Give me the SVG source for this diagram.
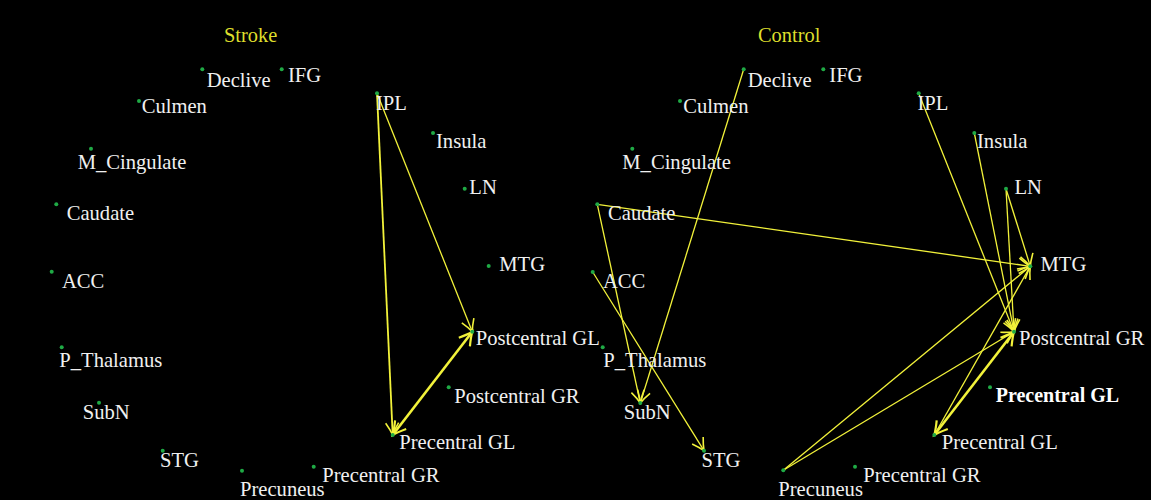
<svg xmlns="http://www.w3.org/2000/svg" width="1151" height="500" viewBox="0 0 1151 500">
<defs>
<style>
.lbl{font-family:"Liberation Serif","Times New Roman",serif;font-size:20.6px;fill:#f0f0f0}
.ttl{font-family:"Liberation Serif","Times New Roman",serif;font-size:20.4px;fill:#dede2c}
.bold{font-weight:bold;fill:#ffffff;font-size:20px}
.dot{fill:#1faa45}
.e{stroke:#f2f23a;fill:none;stroke-width:1.3}
.e2{stroke:#f2f23a;fill:none;stroke-width:1.8}
.e3{stroke:#f2f23a;fill:none;stroke-width:2.6}
</style>
<marker id="ah" markerUnits="userSpaceOnUse" markerWidth="16" markerHeight="16" viewBox="-13 -8 16 16" refX="0" refY="0" orient="auto-start-reverse">
<path d="M-12,-6.5 Q-5,-2 0,0 Q-5,2 -12,6.5" fill="none" stroke="#f2f23a" stroke-width="1.6"/>
</marker>
<marker id="ahb" markerUnits="userSpaceOnUse" markerWidth="18" markerHeight="18" viewBox="-14 -9 18 18" refX="0" refY="0" orient="auto-start-reverse">
<path d="M-13,-7 Q-5,-2 0,0 Q-5,2 -13,7" fill="none" stroke="#f2f23a" stroke-width="2.2"/>
</marker>
</defs>
<rect x="0" y="0" width="1151" height="500" fill="#000000"/>

<text class="ttl" x="224" y="42">Stroke</text>
<text class="ttl" x="758" y="42">Control</text>

<g id="connectors">
<!-- Stroke panel -->
<line class="e" x1="377" y1="93.3" x2="472.3" y2="331.7" marker-end="url(#ah)"/>
<line class="e2" x1="377" y1="93.3" x2="392.7" y2="435" marker-end="url(#ah)"/>
<line class="e3" x1="392.7" y1="435" x2="472.3" y2="331.7" marker-start="url(#ahb)" marker-end="url(#ahb)"/>
<!-- Control panel -->
<line class="e" x1="743.7" y1="69.3" x2="640.3" y2="403" marker-end="url(#ah)"/>
<line class="e" x1="597.3" y1="204.3" x2="640.3" y2="403" marker-end="url(#ah)"/>
<line class="e" x1="597.3" y1="204.3" x2="1030.3" y2="266.3" marker-end="url(#ah)"/>
<line class="e" x1="592.7" y1="272" x2="704" y2="450.7" marker-end="url(#ah)"/>
<line class="e" x1="918.7" y1="93.3" x2="1014" y2="331.7" marker-end="url(#ah)"/>
<line class="e" x1="974.3" y1="133" x2="1014" y2="331.7" marker-end="url(#ah)"/>
<line class="e" x1="1006" y1="188.7" x2="1030.3" y2="266.3" marker-end="url(#ah)"/>
<line class="e" x1="1006" y1="188.7" x2="1014" y2="331.7" marker-end="url(#ah)"/>
<line class="e" x1="783.3" y1="470.3" x2="1030.3" y2="266.3" marker-end="url(#ah)"/>
<line class="e" x1="783.3" y1="470.3" x2="1014" y2="331.7" marker-end="url(#ah)"/>
<line class="e" x1="934.3" y1="435" x2="1030.3" y2="266.3" marker-end="url(#ah)"/>
<line class="e3" x1="934.3" y1="435" x2="1014" y2="331.7" marker-start="url(#ahb)" marker-end="url(#ahb)"/>
</g>

<!-- Stroke nodes -->
<g id="s-declive"><circle class="dot" cx="202.3" cy="69.3" r="2"/><text class="lbl" x="206.7" y="87">Declive</text></g>
<g id="s-ifg"><circle class="dot" cx="281.7" cy="69.3" r="2"/><text class="lbl" x="288" y="82">IFG</text></g>
<g id="s-culmen"><circle class="dot" cx="139" cy="101" r="2"/><text class="lbl" x="141.7" y="113">Culmen</text></g>
<g id="s-ipl"><circle class="dot" cx="377" cy="93.3" r="2"/><text class="lbl" x="376" y="110">IPL</text></g>
<g id="s-insula"><circle class="dot" cx="433" cy="133" r="2"/><text class="lbl" x="436" y="148">Insula</text></g>
<g id="s-mcingulate"><circle class="dot" cx="91" cy="148.7" r="2"/><text class="lbl" x="77.7" y="169">M_Cingulate</text></g>
<g id="s-ln"><circle class="dot" cx="464.7" cy="188.7" r="2"/><text class="lbl" x="469.3" y="193.5">LN</text></g>
<g id="s-caudate"><circle class="dot" cx="56.3" cy="204.3" r="2"/><text class="lbl" x="66.7" y="220">Caudate</text></g>
<g id="s-mtg"><circle class="dot" cx="488.7" cy="266" r="2"/><text class="lbl" x="499.3" y="270.5">MTG</text></g>
<g id="s-acc"><circle class="dot" cx="51.7" cy="271.7" r="2"/><text class="lbl" x="62" y="288">ACC</text></g>
<g id="s-postgl"><circle class="dot" cx="472.3" cy="331.7" r="2"/><text class="lbl" x="475.7" y="345">Postcentral GL</text></g>
<g id="s-pthal"><circle class="dot" cx="61.7" cy="347.3" r="2"/><text class="lbl" x="59.3" y="367">P_Thalamus</text></g>
<g id="s-postgr"><circle class="dot" cx="448.7" cy="387.3" r="2"/><text class="lbl" x="454.3" y="403">Postcentral GR</text></g>
<g id="s-subn"><circle class="dot" cx="99" cy="402.7" r="2"/><text class="lbl" x="82.7" y="419">SubN</text></g>
<g id="s-pregl"><circle class="dot" cx="392.7" cy="435" r="2"/><text class="lbl" x="399.3" y="448.5">Precentral GL</text></g>
<g id="s-stg"><circle class="dot" cx="162.7" cy="450.7" r="2"/><text class="lbl" x="160" y="467">STG</text></g>
<g id="s-pregr"><circle class="dot" cx="313.7" cy="466.7" r="2"/><text class="lbl" x="322.3" y="482">Precentral GR</text></g>
<g id="s-precuneus"><circle class="dot" cx="242" cy="470.7" r="2"/><text class="lbl" x="240" y="496">Precuneus</text></g>

<!-- Control nodes -->
<g id="c-declive"><circle class="dot" cx="743.7" cy="69.3" r="2"/><text class="lbl" x="747.7" y="87">Declive</text></g>
<g id="c-ifg"><circle class="dot" cx="823.3" cy="69.3" r="2"/><text class="lbl" x="829.3" y="82">IFG</text></g>
<g id="c-culmen"><circle class="dot" cx="680" cy="101" r="2"/><text class="lbl" x="683.3" y="113">Culmen</text></g>
<g id="c-ipl"><circle class="dot" cx="918.7" cy="93.3" r="2"/><text class="lbl" x="917.5" y="110">IPL</text></g>
<g id="c-insula"><circle class="dot" cx="974.3" cy="133" r="2"/><text class="lbl" x="977" y="148">Insula</text></g>
<g id="c-mcingulate"><circle class="dot" cx="632.3" cy="148.7" r="2"/><text class="lbl" x="622.3" y="169">M_Cingulate</text></g>
<g id="c-ln"><circle class="dot" cx="1006" cy="188.7" r="2"/><text class="lbl" x="1014.5" y="193.5">LN</text></g>
<g id="c-caudate"><circle class="dot" cx="597.3" cy="204.3" r="2"/><text class="lbl" x="608" y="220">Caudate</text></g>
<g id="c-mtg"><circle class="dot" cx="1030.3" cy="266.3" r="2"/><text class="lbl" x="1040.5" y="270.5">MTG</text></g>
<g id="c-acc"><circle class="dot" cx="592.7" cy="272" r="2"/><text class="lbl" x="603" y="288">ACC</text></g>
<g id="c-postgr"><circle class="dot" cx="1014" cy="331.7" r="2"/><text class="lbl" x="1019" y="345">Postcentral GR</text></g>
<g id="c-pthal"><circle class="dot" cx="602.7" cy="347.3" r="2"/><text class="lbl" x="603.3" y="367">P_Thalamus</text></g>
<g id="c-pregl-b"><circle class="dot" cx="990" cy="387.3" r="2"/><text class="lbl bold" x="995.7" y="402">Precentral GL</text></g>
<g id="c-subn"><circle class="dot" cx="640.3" cy="403" r="2"/><text class="lbl" x="623.7" y="419">SubN</text></g>
<g id="c-pregl"><circle class="dot" cx="934.3" cy="435" r="2"/><text class="lbl" x="941.7" y="448.5">Precentral GL</text></g>
<g id="c-stg"><circle class="dot" cx="704" cy="450.7" r="2"/><text class="lbl" x="701.5" y="467">STG</text></g>
<g id="c-pregr"><circle class="dot" cx="855" cy="466.7" r="2"/><text class="lbl" x="863.3" y="482">Precentral GR</text></g>
<g id="c-precuneus"><circle class="dot" cx="783.3" cy="470.3" r="2"/><text class="lbl" x="778.3" y="496">Precuneus</text></g>
</svg>
